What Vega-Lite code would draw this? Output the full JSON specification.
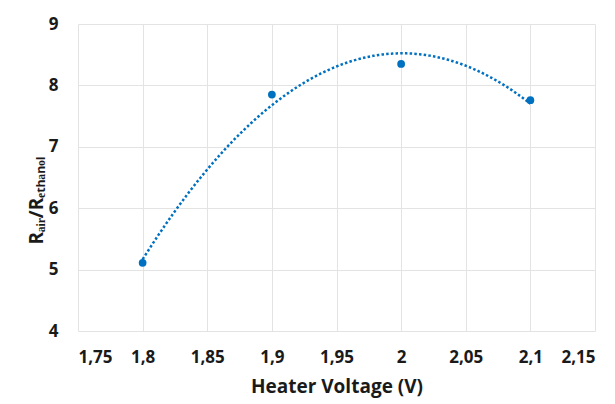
{
  "$schema": "https://vega.github.io/schema/vega-lite/v6.json",
  "autosize": {"type": "none"},
  "width": 517,
  "height": 307,
  "padding": {"left": 78, "top": 24, "right": 20, "bottom": 73},
  "background": "white",
  "config": {
    "view": {"stroke": null},
    "font": "Open Sans",
    "axis": {
      "domain": false,
      "ticks": false,
      "gridColor": "#e3e3e3",
      "gridWidth": 1,
      "labelFont": "Open Sans",
      "labelFontWeight": "bold",
      "labelFontSize": 17,
      "labelColor": "#1a1a1a",
      "titleFont": "Open Sans",
      "titleFontWeight": "bold",
      "titleFontSize": 19,
      "titleColor": "#1a1a1a"
    }
  },
  "data": {
    "values": [
      {"v": 1.8, "r": 5.11},
      {"v": 1.9, "r": 7.85},
      {"v": 2.0, "r": 8.35},
      {"v": 2.1, "r": 7.76}
    ]
  },
  "layer": [
    {
      "transform": [
        {"regression": "r", "on": "v", "method": "poly", "order": 2, "extent": [1.8, 2.1]}
      ],
      "mark": {"type": "line", "color": "#0070C0", "strokeWidth": 2.5, "strokeDash": [2.5, 2.2], "interpolate": "monotone"},
      "encoding": {
        "x": {"field": "v", "type": "quantitative"},
        "y": {"field": "r", "type": "quantitative"}
      }
    },
    {
      "mark": {"type": "point", "filled": true, "color": "#0070C0", "size": 60, "opacity": 1},
      "encoding": {
        "x": {
          "field": "v",
          "type": "quantitative",
          "scale": {"domain": [1.75, 2.15], "nice": false, "zero": false},
          "axis": {
            "values": [1.75, 1.8, 1.85, 1.9, 1.95, 2.0, 2.05, 2.1, 2.15],
            "labelExpr": "replace(format(datum.value, '.2~f'), '.', ',')",
            "labelPadding": 18,
            "title": "Heater Voltage (V)",
            "titlePadding": 12
          }
        },
        "y": {
          "field": "r",
          "type": "quantitative",
          "scale": {"domain": [4, 9], "nice": false, "zero": false},
          "axis": {
            "values": [4, 5, 6, 7, 8, 9],
            "format": "d",
            "labelPadding": 20,
            "title": "Rₐᵢᵣ/Rₑₜₕₐₙₒₗ",
            "titlePadding": 2,
            "titleY": 176
          }
        }
      }
    }
  ]
}
